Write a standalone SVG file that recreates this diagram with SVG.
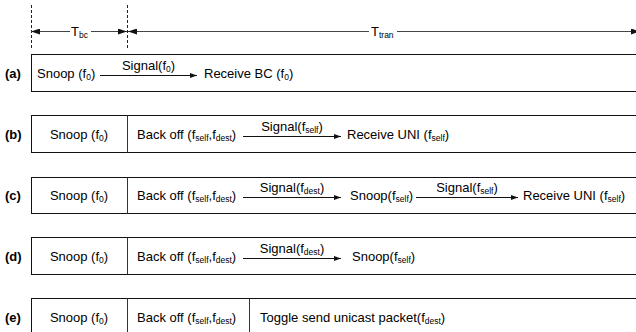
<svg xmlns="http://www.w3.org/2000/svg" width="636" height="332" viewBox="0 0 636 332">
<style>
text{font-family:"Liberation Sans",Arial,sans-serif;font-size:13px;fill:#000}
.lbl{font-weight:bold}
.sub{font-size:8.5px}
.box{fill:#fff;stroke:#111;stroke-width:1}
.div{stroke:#333;stroke-width:1}
.arr{stroke:#111;stroke-width:1;fill:none;marker-end:url(#ah)}
.dim{stroke:#444;stroke-width:1;fill:none}
.dash{stroke:#222;stroke-width:1;stroke-dasharray:3 2}
.m{text-anchor:middle}
</style>
<defs>
<marker id="ah" viewBox="0 0 7 5" refX="7" refY="2.5" markerWidth="7" markerHeight="5" markerUnits="userSpaceOnUse" orient="auto"><path d="M0,0 L7,2.5 L0,5 z" fill="#111"/></marker>
<marker id="dh" viewBox="0 0 9 6" refX="9" refY="3" markerWidth="9" markerHeight="6" markerUnits="userSpaceOnUse" orient="auto-start-reverse"><path d="M0,0 L9,3 L0,6 z" fill="#111"/></marker>
</defs>

<g id="timeline">
<line class="dash" x1="31.5" y1="5" x2="31.5" y2="48"/>
<line class="dash" x1="127.5" y1="5" x2="127.5" y2="48"/>
<line class="dim" x1="31" y1="31.5" x2="70" y2="31.5" marker-start="url(#dh)"/>
<line class="dim" x1="91" y1="31.5" x2="127" y2="31.5" marker-end="url(#dh)"/>
<line class="dim" x1="128" y1="31.5" x2="369" y2="31.5" marker-start="url(#dh)"/>
<line class="dim" x1="397" y1="31.5" x2="640" y2="31.5" marker-end="url(#dh)"/>
<text x="71" y="36">T<tspan class="sub" dy="2">bc</tspan></text>
<text x="371" y="36">T<tspan class="sub" dy="2">tran</tspan></text>
</g>

<g id="row-a">
<text class="lbl" x="5" y="77.5">(a)</text>
<rect class="box" x="31.5" y="54.5" width="620" height="37"/>
<text x="37" y="77.5">Snoop (f<tspan class="sub" dy="2">0</tspan><tspan dy="-2">)</tspan></text>
<text class="m" x="148.5" y="70">Signal(f<tspan class="sub" dy="2">0</tspan><tspan dy="-2">)</tspan></text>
<text x="204" y="77.5">Receive BC (f<tspan class="sub" dy="2">0</tspan><tspan dy="-2">)</tspan></text>
</g>

<g id="row-b">
<text class="lbl" x="5" y="138.5">(b)</text>
<rect class="box" x="31.5" y="115.5" width="620" height="37"/>
<line class="div" x1="127.5" y1="115.5" x2="127.5" y2="152.5"/>
<text class="m" x="79" y="138.5">Snoop (f<tspan class="sub" dy="2">0</tspan><tspan dy="-2">)</tspan></text>
<text x="137" y="138.5">Back off (f<tspan class="sub" dy="2">self</tspan><tspan dy="-2">,f</tspan><tspan class="sub" dy="2">dest</tspan><tspan dy="-2">)</tspan></text>
<text class="m" x="292" y="131">Signal(f<tspan class="sub" dy="2">self</tspan><tspan dy="-2">)</tspan></text>
<text x="347" y="138.5">Receive UNI (f<tspan class="sub" dy="2">self</tspan><tspan dy="-2">)</tspan></text>
</g>

<g id="row-c">
<text class="lbl" x="5" y="200">(c)</text>
<rect class="box" x="31.5" y="177.5" width="620" height="36"/>
<line class="div" x1="127.5" y1="177.5" x2="127.5" y2="213.5"/>
<text class="m" x="79" y="200">Snoop (f<tspan class="sub" dy="2">0</tspan><tspan dy="-2">)</tspan></text>
<text x="137" y="200">Back off (f<tspan class="sub" dy="2">self</tspan><tspan dy="-2">,f</tspan><tspan class="sub" dy="2">dest</tspan><tspan dy="-2">)</tspan></text>
<text class="m" x="292" y="192">Signal(f<tspan class="sub" dy="2">dest</tspan><tspan dy="-2">)</tspan></text>
<text x="350" y="200">Snoop(f<tspan class="sub" dy="2">self</tspan><tspan dy="-2">)</tspan></text>
<text class="m" x="467" y="192">Signal(f<tspan class="sub" dy="2">self</tspan><tspan dy="-2">)</tspan></text>
<text x="523" y="200">Receive UNI (f<tspan class="sub" dy="2">self</tspan><tspan dy="-2">)</tspan></text>
</g>

<g id="row-d">
<text class="lbl" x="5" y="260.5">(d)</text>
<rect class="box" x="31.5" y="237.5" width="620" height="37"/>
<line class="div" x1="127.5" y1="237.5" x2="127.5" y2="274.5"/>
<text class="m" x="79" y="260.5">Snoop (f<tspan class="sub" dy="2">0</tspan><tspan dy="-2">)</tspan></text>
<text x="137" y="260.5">Back off (f<tspan class="sub" dy="2">self</tspan><tspan dy="-2">,f</tspan><tspan class="sub" dy="2">dest</tspan><tspan dy="-2">)</tspan></text>
<text class="m" x="292" y="253">Signal(f<tspan class="sub" dy="2">dest</tspan><tspan dy="-2">)</tspan></text>
<text x="352" y="260.5">Snoop(f<tspan class="sub" dy="2">self</tspan><tspan dy="-2">)</tspan></text>
</g>

<g id="row-e">
<text class="lbl" x="5" y="321.5">(e)</text>
<rect class="box" x="31.5" y="298.5" width="620" height="40"/>
<line class="div" x1="127.5" y1="298.5" x2="127.5" y2="338"/>
<line class="div" x1="249.5" y1="298.5" x2="249.5" y2="338"/>
<text class="m" x="79" y="321.5">Snoop (f<tspan class="sub" dy="2">0</tspan><tspan dy="-2">)</tspan></text>
<text x="137" y="321.5">Back off (f<tspan class="sub" dy="2">self</tspan><tspan dy="-2">,f</tspan><tspan class="sub" dy="2">dest</tspan><tspan dy="-2">)</tspan></text>
<text x="260" y="321.5">Toggle send unicast packet(f<tspan class="sub" dy="2">dest</tspan><tspan dy="-2">)</tspan></text>
</g>

<g id="connectors">
<line class="arr" x1="100" y1="75.5" x2="197" y2="75.5"/>
<line class="arr" x1="243" y1="136.5" x2="341" y2="136.5"/>
<line class="arr" x1="243" y1="197.5" x2="341" y2="197.5"/>
<line class="arr" x1="416" y1="197.5" x2="518" y2="197.5"/>
<line class="arr" x1="243" y1="258.5" x2="341" y2="258.5"/>
</g>
</svg>
